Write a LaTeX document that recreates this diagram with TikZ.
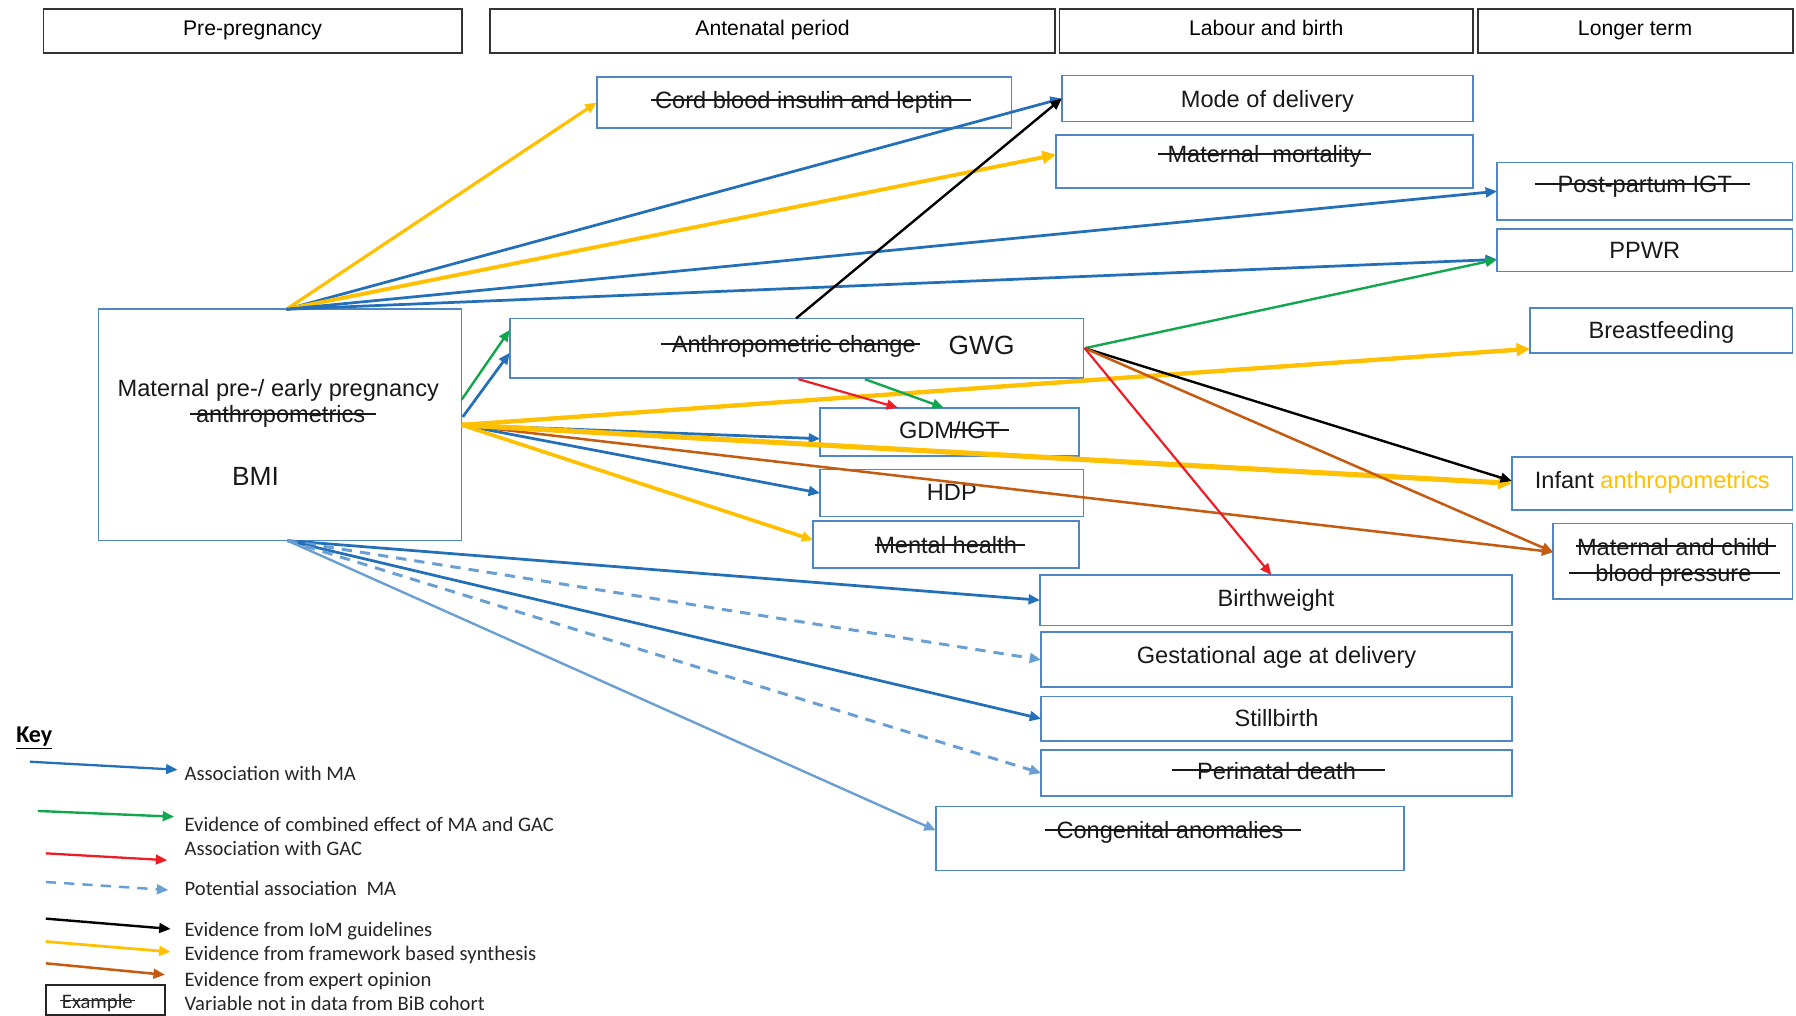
\documentclass[tikz,border=0pt]{standalone}
\usepackage{fontspec}
\setmainfont{Liberation Sans}
\newfontfamily\keyfont{Carlito}
\usetikzlibrary{arrows.meta}

\definecolor{maBlue}{HTML}{2470B8}
\definecolor{potBlue}{HTML}{6A9FD4}
\definecolor{gacRed}{HTML}{EE1C25}
\definecolor{comGreen}{HTML}{12A64F}
\definecolor{fwGold}{HTML}{FFC000}
\definecolor{expBrown}{HTML}{C55A11}
\definecolor{boxBlue}{HTML}{4F86C6}

% struck-through text: left overhang, right overhang, text
\newcommand\strk[3]{\setbox0=\hbox{#3}\hbox{\kern-#1\rlap{\rule[0.33em]{\dimexpr\wd0+#1+#2\relax}{0.08em}}\kern#1\box0}}

% outlined variable box: name, x1, y1, x2, y2, text y, text
\newcommand\obx[7]{%
  \node[obox, minimum width={#4-#2}, minimum height={#5-#3}] (#1) at ({(#2+#4)/2},{(#3+#5)/2}) {};
  \node[lbl] (#1-t) at ({(#2+#4)/2},#6) {#7};}

\tikzset{
  hdr/.style={draw=black!80, line width=1.6pt, inner sep=0pt, outer sep=0pt,
    text height=0.72em, text depth=0pt, font=\fontsize{18.5}{22}\selectfont},
  obox/.style={draw=boxBlue, line width=1.4pt, inner sep=0pt, outer sep=0pt},
  lbl/.style={inner sep=0pt, outer sep=0pt, text height=0.72em, text depth=0pt, yshift=-3.5pt,
    text=black!90, font=\fontsize{20.6}{24}\selectfont},
  bigtxt/.style={font=\fontsize{23}{26}\selectfont, yshift=-1.5pt},
  arr/.style={-{Triangle[length=10pt,width=8.5pt]}},
  ma/.style={arr, draw=maBlue, line width=2.4pt},
  pot/.style={arr, draw=potBlue, line width=2.6pt, dash pattern=on 9pt off 7pt},
  maLight/.style={arr, draw=potBlue, line width=2.1pt},
  gac/.style={arr, draw=gacRed, line width=1.9pt},
  comb/.style={arr, draw=comGreen, line width=2.1pt},
  iom/.style={arr, draw=black, line width=2.1pt},
  fw/.style={arr, draw=fwGold, line width=2.8pt},
  fwthick/.style={-{Triangle[length=12pt,width=11pt]}, draw=fwGold, line width=3.8pt},
  expo/.style={arr, draw=expBrown, line width=2.2pt},
  keytxt/.style={anchor=west, inner sep=0pt, text height=0.64em, text depth=0pt, yshift=-3pt,
    font=\keyfont\fontsize{18}{21}\selectfont, text=black!85},
}

\begin{document}
\begin{tikzpicture}[x=1pt,y=-1pt]
\useasboundingbox[fill=white] (0,0) rectangle (1568,887);

% period headers
\node[hdr, minimum width=365, minimum height=38] (hPre) at (220.5,27) {Pre-pregnancy};
\node[hdr, minimum width=493, minimum height=38] (hAnte) at (674.5,27) {Antenatal period};
\node[hdr, minimum width=361, minimum height=38] (hLab) at (1105.5,27) {Labour and birth};
\node[hdr, minimum width=275, minimum height=38] (hLong) at (1427.5,27) {Longer term};

% exposure boxes
\node[obox, minimum width=317, minimum height=202] (ma) at (244.5,371) {};
\node[lbl] (ma-t1) at (243,339) {Maternal pre-/ early pregnancy};
\node[lbl] (ma-t2) at (245,362) {\strk{5pt}{9pt}{anthropometrics}};
\node[lbl, bigtxt] (ma-t3) at (223,415) {BMI};

\node[obox, minimum width=501, minimum height=52] (gwg) at (695.5,304) {};
\node[lbl] (gwg-t1) at (693,301) {\strk{9pt}{4pt}{Anthropometric change}};
\node[lbl, bigtxt] (gwg-t2) at (857,301) {GWG};

% outcome boxes
\obx{cord}{521}{67}{883}{112}{88}{\strk{4pt}{16pt}{Cord blood insulin and leptin}}
\obx{mode}{927}{66}{1286}{106}{86.5}{Mode of delivery}
\obx{mort}{922}{118}{1286}{164}{135}{\strk{8pt}{8pt}{Maternal\ \ mortality}}
\obx{ppigt}{1307}{142}{1565}{192}{161}{\strk{20pt}{16pt}{Post-partum IGT}}
\obx{ppwr}{1307}{200}{1565}{237}{219}{PPWR}
\obx{bf}{1336}{269}{1565}{308}{288.5}{Breastfeeding}
\obx{gdm}{716}{356}{942}{398}{376}{GDM\strk{2pt}{8pt}{/IGT}}
\obx{hdp}{716}{410}{946}{451}{430}{HDP}
\obx{mental}{710}{455}{942}{496}{476}{\strk{0pt}{7pt}{Mental health}}
\obx{infant}{1320}{399}{1565}{445}{419.5}{Infant \textcolor{fwGold}{anthropometrics}}
\obx{bw}{908}{502}{1320}{546}{522.5}{Birthweight}
\obx{ga}{909}{552}{1320}{600}{572.5}{Gestational age at delivery}
\obx{sb}{909}{608}{1320}{647}{627.5}{Stillbirth}
\obx{pd}{909}{655}{1320}{695}{673}{\strk{22pt}{25pt}{Perinatal death}}
\obx{ca}{817}{704}{1226}{760}{725}{\strk{10pt}{15pt}{Congenital anomalies}}
\node[obox, minimum width=209, minimum height=66] (mcbp) at (1460.5,490) {};
\node[lbl] (mcbp-t1) at (1461,477.5) {\strk{1pt}{5pt}{Maternal and child}};
\node[lbl] (mcbp-t2) at (1461,500.5) {\strk{23pt}{25pt}{blood pressure}};

% connector hubs on the box borders
\coordinate (hubT) at (250,270);
\coordinate (hubR) at (403,371);
\coordinate (hubB) at (251,472);
\coordinate (maR1) at (403,349);
\coordinate (maR2) at (404,364);
\coordinate (gwgR) at (947,304);
\coordinate (gwgT) at (695,278);
\coordinate (gwgB1) at (697,331);
\coordinate (gwgB2) at (755,331);

% links from the top of the maternal box
\draw[fw] (hubT) -- (cord.west);
\draw[ma] (hubT) -- (mode.west);
\draw[fwthick, line width=3.4pt] (hubT) -- ([yshift=6pt]mort.west);
\draw[ma] (hubT) -- (ppigt.west);
\draw[ma] (hubT) -- ([yshift=-8pt]ppwr.west);
\draw[iom] (gwgT) -- (mode.west);

% links from the right of the maternal box
\draw[comb] (maR1) -- ([yshift=16pt]gwg.west);
\draw[ma] (maR2) -- ([yshift=-4pt]gwg.west);
\draw[fwthick] (hubR) -- ([yshift=-16pt]bf.west);
\draw[ma] (hubR) -- ([yshift=-6pt]gdm.west);
\draw[expo] (hubR) -- ([yshift=8pt]mcbp.west);
\draw[ma] (hubR) -- (hdp.west);
\draw[fw, line width=3.2pt] (hubR) -- ([yshift=4pt]mental.west);
\draw[fwthick, line width=4.5pt] (hubR) -- (infant.west);

% links from gestational weight gain
\draw[comb] (gwgR) -- ([yshift=-8pt]ppwr.west);
\draw[iom] (gwgR) -- ([yshift=2pt]infant.west);
\draw[expo] (gwgR) -- ([yshift=8pt]mcbp.west);
\draw[gac] (gwgR) -- ([xshift=-4pt]bw.north);
\draw[gac] (gwgB1) -- ([xshift=-45pt]gdm.north);
\draw[comb] (gwgB2) -- ([xshift=-5pt]gdm.north);

% links from the bottom of the maternal box
\draw[ma] (hubB) -- (bw.west);
\draw[pot] (hubB) -- (ga.west);
\draw[ma] (hubB) -- (sb.west);
\draw[pot] (hubB) -- (pd.west);
\draw[maLight] (hubB) -- ([yshift=7pt]ca.west);

% key
\node[anchor=west, inner sep=0pt, font=\keyfont\bfseries\fontsize{21}{24}\selectfont] (keyT) at (14,644) {\underline{Key}};
\coordinate (k1a) at (26,665);  \coordinate (k1b) at (155,672);
\coordinate (k2a) at (33,708);  \coordinate (k2b) at (152,713);
\coordinate (k3a) at (40,745);  \coordinate (k3b) at (146,751);
\coordinate (k4a) at (40,770);  \coordinate (k4b) at (147,777);
\coordinate (k5a) at (40,802);  \coordinate (k5b) at (149,811);
\coordinate (k6a) at (40,822);  \coordinate (k6b) at (149,831);
\coordinate (k7a) at (40,841);  \coordinate (k7b) at (144,851);
\draw[ma, line width=2pt] (k1a) -- (k1b);
\draw[comb] (k2a) -- (k2b);
\draw[gac, line width=2pt] (k3a) -- (k3b);
\draw[pot, line width=2.2pt] (k4a) -- (k4b);
\draw[iom] (k5a) -- (k5b);
\draw[fw, line width=2.4pt] (k6a) -- (k6b);
\draw[expo] (k7a) -- (k7b);
\node[keytxt] (k1t) at (161,675) {Association with MA};
\node[keytxt] (k2t) at (161,720) {Evidence of combined effect of MA and GAC};
\node[keytxt] (k3t) at (161,741) {Association with GAC};
\node[keytxt] (k4t) at (161,776) {Potential association\ \ MA};
\node[keytxt] (k5t) at (161,811) {Evidence from IoM guidelines};
\node[keytxt] (k6t) at (161,832) {Evidence from framework based synthesis};
\node[keytxt] (k7t) at (161,855) {Evidence from expert opinion};
\node[draw=black!85, line width=1.3pt, minimum width=104, minimum height=26, inner sep=0pt] (exBox) at (92,873) {};
\node[keytxt, anchor=center] (exT) at (85,874) {\strk{2pt}{2pt}{Example}};
\node[keytxt] (k8t) at (161,876) {Variable not in data from BiB cohort};
\end{tikzpicture}
\end{document}
